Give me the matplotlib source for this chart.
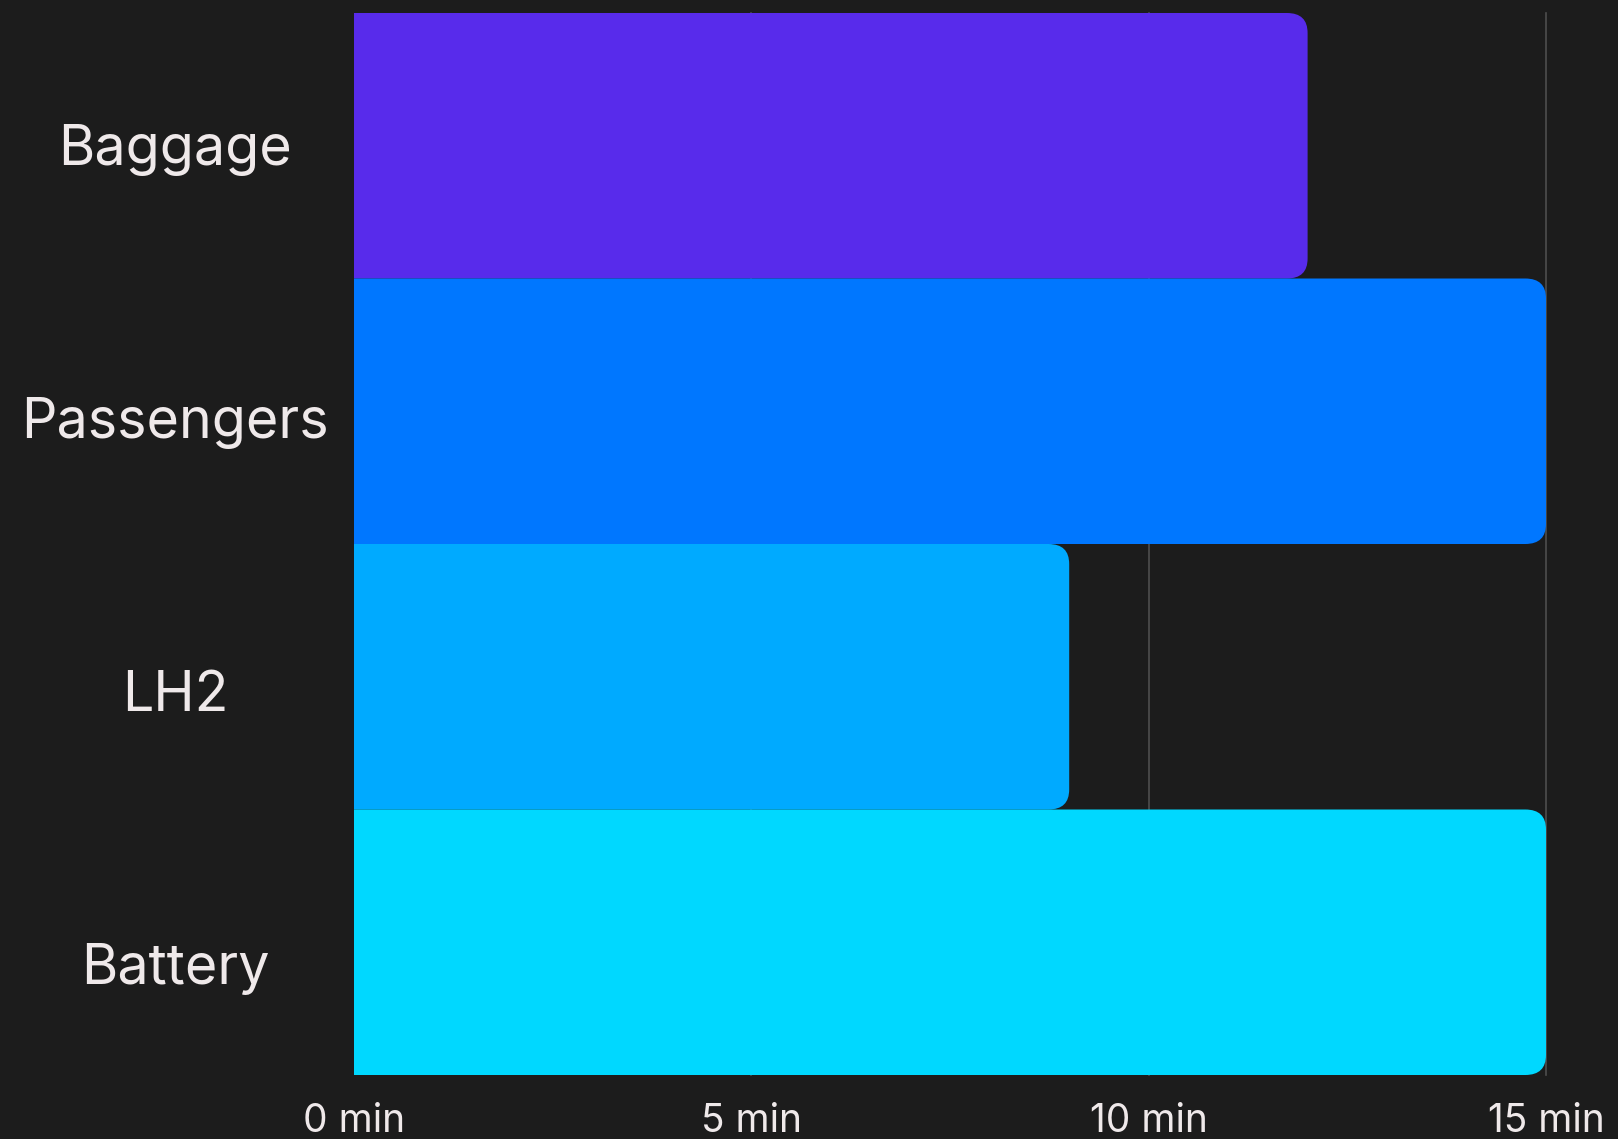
import matplotlib
matplotlib.use('Agg')
import matplotlib.pyplot as plt
from matplotlib.patches import FancyBboxPatch
from matplotlib.transforms import ScaledTranslation, blended_transform_factory

# data
categories = ['Baggage', 'Passengers', 'LH2', 'Battery']
minutes = [12, 15, 9, 15]
bar_colors = ['#582BEB', '#0077FF', '#00AAFF', '#00D8FF']
tick_values = [0, 5, 10, 15]
tick_labels = ['0 min', '5 min', '10 min', '15 min']

bg = '#1C1C1C'
text_color = '#EFE9EA'

plt.rcParams['font.family'] = ['Inter', 'DejaVu Sans']

fig = plt.figure(figsize=(16.18, 11.39), dpi=100, facecolor=bg)
ax = fig.add_axes([354 / 1618, 1 - 1075 / 1139, (1546 - 354) / 1618, (1075 - 13) / 1139])
ax.set_facecolor(bg)

ax.set_xlim(0, 15)
ax.set_ylim(len(categories) - 0.5, -0.5)

# grid lines behind the bars
for v in tick_values[1:]:
    ax.axvline(v, color='#4E4E4E', lw=1.2, zorder=0, clip_on=False)

# rounded bars (left side pushed past the axis so only right corners show)
for i, (val, col) in enumerate(zip(minutes, bar_colors)):
    patch = FancyBboxPatch((-1, i - 0.5), val + 1, 1.0,
                           boxstyle='round,pad=0,rounding_size=0.26',
                           mutation_aspect=0.29,
                           facecolor=col, edgecolor='none', zorder=2)
    ax.add_patch(patch)

# category labels, centred in the left margin; they drift slightly
# downward from the bar centres in the original
ax.set_yticks([])
lab_trans = blended_transform_factory(fig.transFigure, ax.transData)
for i, name in enumerate(categories):
    drop = (-1 + 7.3 * i) / 100.0
    tr = lab_trans + ScaledTranslation(0, -drop, fig.dpi_scale_trans)
    ax.text(175 / 1618, i, name, transform=tr, fontsize=40, color=text_color,
            ha='center', va='center_baseline', clip_on=False)

ax.set_xticks(tick_values)
ax.set_xticklabels(tick_labels, fontsize=28, color=text_color)
ax.tick_params(axis='x', length=0, pad=20)

for s in ax.spines.values():
    s.set_visible(False)

fig.savefig('out.png', dpi=100, facecolor=bg)
